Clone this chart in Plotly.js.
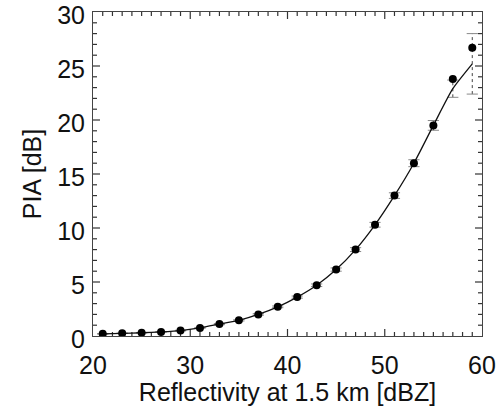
<!DOCTYPE html>
<html>
<head>
<meta charset="utf-8">
<script src="https://cdn.plot.ly/plotly-3.0.1.min.js"></script>
<style>html,body{margin:0;padding:0;background:#fff}#chart{width:502px;height:406px}</style>
</head>
<body>
<div id="chart"></div>
<script>
// Data
var reflectivity = [21,23,25,27,29,31,33,35,37,39,41,43,45,47,49,51,53,55,57,59];
var piaPoints    = [0.2,0.25,0.3,0.38,0.5,0.75,1.1,1.45,2.0,2.7,3.6,4.7,6.15,8.0,10.3,13.0,16.0,19.5,23.8,26.7];
var piaCurve     = [0.2,0.25,0.3,0.38,0.5,0.75,1.1,1.45,2.0,2.7,3.6,4.7,6.15,8.0,10.3,13.0,16.0,19.5,22.9,25.2];
var piaError     = [0.02,0.02,0.02,0.03,0.03,0.04,0.05,0.06,0.07,0.08,0.1,0.12,0.15,0.18,0.22,0.26,0.32,0.45,0.8,2.8];
var xTicks = [20,30,40,50,60];
var yTicks = [0,5,10,15,20,25,30];
var xRange = [20, 60], xMinorStep = 1;
var yRange = [0, 30],  yMinorStep = 1;

var W = 502, H = 406, M = {l: 93, r: 20, t: 12, b: 70};

// error bar segments (dotted) and caps built from the data arrays
var segX = [], segY = [], capX = [], capY = [];
for (var i = 0; i < reflectivity.length; i++) {
  var lo = piaCurve[i] - piaError[i], hi = piaCurve[i] + piaError[i];
  segX.push(reflectivity[i], reflectivity[i], null);
  segY.push(lo, hi, null);
  capX.push(reflectivity[i], reflectivity[i]);
  capY.push(lo, hi);
}

// inward ticks on all four sides (lengths given in pixels, converted to axis units)
var xPerPx = (xRange[1] - xRange[0]) / (W - M.l - M.r);
var yPerPx = (yRange[1] - yRange[0]) / (H - M.t - M.b);
var tickX = [], tickY = [];
for (var xv = xRange[0] + xMinorStep; xv < xRange[1]; xv += xMinorStep) {
  var lx = (xTicks.indexOf(xv) >= 0 ? 7 : 4) * yPerPx;
  tickX.push(xv, xv, null, xv, xv, null);
  tickY.push(yRange[0], yRange[0] + lx, null, yRange[1], yRange[1] - lx, null);
}
for (var yv = yRange[0] + yMinorStep; yv < yRange[1]; yv += yMinorStep) {
  var ly = (yTicks.indexOf(yv) >= 0 ? 7 : 4) * xPerPx;
  tickX.push(xRange[0], xRange[0] + ly, null, xRange[1], xRange[1] - ly, null);
  tickY.push(yv, yv, null, yv, yv, null);
}

var fam = 'Liberation Sans, Arial, Helvetica, sans-serif';
var axisColor = '#444';

var traces = [
  {x: tickX, y: tickY, mode: 'lines', line: {color: '#333', width: 1.2, simplify: false}, connectgaps: false, hoverinfo: 'skip', showlegend: false},
  {x: segX, y: segY, mode: 'lines', line: {color: '#444', width: 1, dash: 'dot'}, hoverinfo: 'skip', showlegend: false},
  {x: capX, y: capY, mode: 'markers', marker: {symbol: 'line-ew-open', size: 8, color: '#888', line: {color: '#888', width: 1}}, hoverinfo: 'skip', showlegend: false},
  {x: reflectivity, y: piaCurve, mode: 'lines', line: {color: '#111', width: 1.3, shape: 'spline', smoothing: 0.6}, showlegend: false},
  {x: reflectivity, y: piaPoints, mode: 'markers', marker: {color: '#000', size: 8, symbol: 'circle'}, showlegend: false}
];

function axis(range, vals, title, tstand) {
  return {
    range: range, autorange: false,
    tickmode: 'array', tickvals: vals, ticktext: vals.map(String),
    showgrid: false, zeroline: false, showline: true, linecolor: axisColor, linewidth: 1,
    mirror: true, ticks: '',
    ticklabeloverflow: 'allow',
    tickfont: {family: fam, size: 25, color: '#111'},
    title: {text: title, font: {family: fam, size: 25, color: '#111'}, standoff: tstand}
  };
}

var xa = axis(xRange, xTicks, 'Reflectivity at 1.5 km [dBZ]', 3);
xa.ticklabelstandoff = 7;
var ya = axis(yRange, yTicks, 'PIA [dB]', 8);
ya.ticklabelstandoff = 2;
ya.ticklabelshift = 3;

var layout = {
  width: W, height: H,
  margin: M,
  paper_bgcolor: '#fff', plot_bgcolor: '#fff',
  showlegend: false,
  xaxis: xa,
  yaxis: ya
};

Plotly.newPlot('chart', traces, layout, {displayModeBar: false});
</script>
</body>
</html>
